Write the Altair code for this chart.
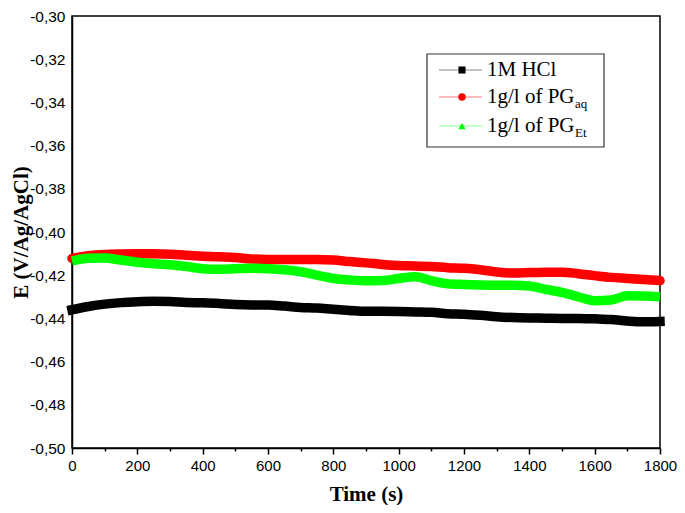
import altair as alt
import pandas as pd

# ---------------- data ----------------
time_s = [0, 50, 100, 150, 200, 250, 300, 350, 400, 450, 500, 550, 600, 650,
          700, 750, 800, 850, 900, 950, 1000, 1050, 1100, 1150, 1200, 1250,
          1300, 1350, 1400, 1450, 1500, 1550, 1600, 1650, 1700, 1750, 1800]

e_hcl = [-0.4360, -0.4345, -0.4334, -0.4327, -0.4323, -0.4321, -0.4322, -0.4326,
         -0.4328, -0.4331, -0.4336, -0.4338, -0.4338, -0.4343, -0.4349, -0.4352,
         -0.4358, -0.4363, -0.4367, -0.4367, -0.4368, -0.4370, -0.4372, -0.4378,
         -0.4381, -0.4385, -0.4392, -0.4396, -0.4398, -0.4399, -0.4400, -0.4400,
         -0.4402, -0.4405, -0.4412, -0.4416, -0.4414]

e_aq = [-0.4122, -0.4110, -0.4104, -0.4102, -0.4101, -0.4101, -0.4103, -0.4108,
        -0.4112, -0.4115, -0.4118, -0.4125, -0.4127, -0.4127, -0.4127, -0.4127,
        -0.4130, -0.4137, -0.4143, -0.4150, -0.4155, -0.4157, -0.4160, -0.4165,
        -0.4168, -0.4175, -0.4185, -0.4190, -0.4188, -0.4186, -0.4186, -0.4193,
        -0.4202, -0.4210, -0.4215, -0.4220, -0.4225]

e_et = [-0.4134, -0.4122, -0.4120, -0.4130, -0.4140, -0.4147, -0.4152, -0.4160,
        -0.4170, -0.4173, -0.4170, -0.4168, -0.4170, -0.4175, -0.4184, -0.4200,
        -0.4215, -0.4222, -0.4226, -0.4225, -0.4215, -0.4207, -0.4225, -0.4240,
        -0.4243, -0.4245, -0.4246, -0.4246, -0.4250, -0.4265, -0.4280, -0.4300,
        -0.4318, -0.4315, -0.4295, -0.4296, -0.4300]

legend_main = ["1M HCl", "1g/l of PG", "1g/l of PG"]
legend_sub = ["", "aq", "Et"]
series_colors = ["#000000", "#ff0000", "#00ff00"]
legend_line_colors = ["#8a8a8a", "#ff7a7a", "#8aff8a"]
series_shapes = ["square", "circle", "triangle-up"]
series_caps = ["square", "round", "butt"]

x_ticks = [0, 100, 200, 300, 400, 500, 600, 700, 800, 900, 1000, 1100, 1200,
           1300, 1400, 1500, 1600, 1700, 1800]
y_ticks = [-0.50, -0.48, -0.46, -0.44, -0.42, -0.40, -0.38, -0.36, -0.34,
           -0.32, -0.30]

W, H = 588, 432

x_enc = alt.X(
    "t:Q",
    scale=alt.Scale(domain=[0, 1800], nice=False, zero=False),
    axis=alt.Axis(
        values=x_ticks,
        format="d",
        labelFlush=False,
        labelExpr="datum.value % 200 === 0 ? datum.label : ''",
        tickSize={"condition": {"test": "datum.value % 200 === 0", "value": 6}, "value": 3},
        labelPadding=4,
        labelFontSize=15,
        titlePadding=10,
        title="Time (s)",
    ),
)
y_enc = alt.Y(
    "e:Q",
    scale=alt.Scale(domain=[-0.50, -0.30], nice=False, zero=False),
    axis=alt.Axis(
        values=y_ticks,
        labelExpr="'-' + replace(format(abs(datum.value), '.2f'), '.', ',')",
        labelFlush=False,
        tickSize=0,
        labelPadding=7,
        labelFontSize=15.5,
        titlePadding=-2,
        title="E (V/Ag/AgCl)",
    ),
)

layers = []
for vals, col, cap in zip([e_hcl, e_aq, e_et], series_colors, series_caps):
    df = pd.DataFrame({"t": time_s, "e": vals})
    layers.append(
        alt.Chart(df)
        .mark_line(color=col, strokeWidth=9.5, interpolate="monotone",
                   strokeCap=cap, clip=False)
        .encode(x=x_enc, y=y_enc)
    )

# ---------------- legend (drawn in pixel space) ----------------
dummy = pd.DataFrame({"k": [0]})
box = alt.Chart(dummy).mark_rect(fill="white", stroke="#333333", strokeWidth=1.2).encode(
    x=alt.value(355), x2=alt.value(532), y=alt.value(38), y2=alt.value(131)
)
layers.append(box)
row_y = [54, 81, 110]
for i in range(3):
    yy = row_y[i]
    layers.append(
        alt.Chart(dummy).mark_rule(color=legend_line_colors[i], strokeWidth=1).encode(
            x=alt.value(367), x2=alt.value(410), y=alt.value(yy)
        )
    )
    layers.append(
        alt.Chart(dummy).mark_point(shape=series_shapes[i], filled=True, opacity=1,
                                    color=series_colors[i], size=55 if i else 50).encode(
            x=alt.value(390), y=alt.value(yy)
        )
    )
    layers.append(
        alt.Chart(dummy).mark_text(text=legend_main[i], align="left", baseline="middle",
                                   font="Liberation Serif", fontSize=21, color="black").encode(
            x=alt.value(415), y=alt.value(yy)
        )
    )
    if legend_sub[i]:
        layers.append(
            alt.Chart(dummy).mark_text(text=legend_sub[i], align="left", baseline="middle",
                                       font="Liberation Serif", fontSize=13, color="black").encode(
                x=alt.value(503), y=alt.value(yy + 7)
            )
        )

chart = (
    alt.layer(*layers)
    .properties(
        width=W, height=H,
        autosize=alt.AutoSizeParams(type="none"),
        padding={"left": 64, "top": 8, "right": 17, "bottom": 57},
        background="white",
    )
    .configure_view(stroke="black", strokeWidth=1.5)
    .configure_axis(
        grid=False,
        domainColor="black", domainWidth=1.5,
        tickColor="black", tickWidth=1.5,
        labelFont="Liberation Sans", labelColor="black",
        titleFont="Liberation Serif", titleFontSize=21, titleFontWeight="bold",
        titleColor="black",
    )
)

chart.save("out.html", embed_options={"renderer": "svg", "actions": False})
